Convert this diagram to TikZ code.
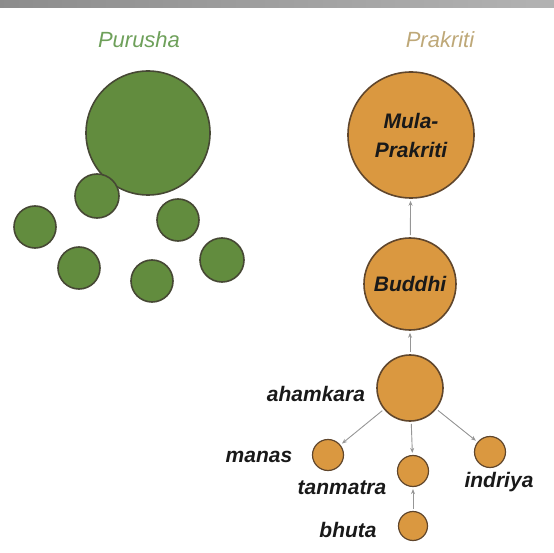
\documentclass[tikz,border=0pt]{standalone}
\usepackage{fontspec}
\setmainfont{Liberation Sans}
\usetikzlibrary{arrows.meta}

\definecolor{purgreen}{RGB}{98,140,62}
\definecolor{purline}{RGB}{70,72,52}
\definecolor{prorange}{RGB}{218,152,64}
\definecolor{proline}{RGB}{96,70,44}
\definecolor{purtext}{RGB}{110,160,90}
\definecolor{prtext}{RGB}{190,168,120}
\definecolor{arrgray}{RGB}{150,150,150}

\begin{document}
\begin{tikzpicture}[x=1pt, y=-1pt,
  puru/.style={circle, draw=purline, fill=purgreen, line width=1.6pt, inner sep=0pt},
  prak/.style={circle, draw=proline, fill=prorange, line width=1.6pt, inner sep=0pt, align=center},
  lbl/.style={font=\fontsize{21}{23}\selectfont\bfseries\itshape, text=black!90},
  head/.style={font=\fontsize{22}{24}\selectfont\itshape},
  arr/.style={draw=arrgray, line width=0.9pt, -{Stealth[length=5pt, width=4pt]}, shorten <=2pt, shorten >=2pt}]
  \useasboundingbox (0,0) rectangle (554,553);
  \shade[left color=black!45, right color=black!30] (0,0) rectangle (554,8);
  % Purusha
  \node[head, text=purtext] (purusha) at (139,40) {Purusha};
  \node[puru, minimum size=124pt] (p0) at (148,133) {};
  \node[puru, minimum size=44pt] (p1) at (97,196) {};
  \node[puru, minimum size=42pt] (p2) at (35,227) {};
  \node[puru, minimum size=42pt] (p3) at (178,220) {};
  \node[puru, minimum size=42pt] (p4) at (79,268) {};
  \node[puru, minimum size=42pt] (p5) at (152,281) {};
  \node[puru, minimum size=44pt] (p6) at (222,260) {};
  % Prakriti
  \node[head, text=prtext] (prakriti) at (440,40) {Prakriti};
  \node[prak, minimum size=126pt, lbl] (mula) at (411,135) {Mula-\\[6pt]Prakriti};
  \node[prak, minimum size=92pt, lbl] (buddhi) at (410,284) {Buddhi};
  \node[prak, minimum size=66pt] (ahamkara) at (410,388) {};
  \node[prak, minimum size=31pt, line width=1.2pt] (manas) at (328,455) {};
  \node[prak, minimum size=31pt, line width=1.2pt] (tanmatra) at (413,471) {};
  \node[prak, minimum size=31pt, line width=1.2pt] (indriya) at (490,452) {};
  \node[prak, minimum size=29pt, line width=1.2pt] (bhuta) at (413,526) {};
  \node[lbl] (ahamkaralbl) at (316,394) {ahamkara};
  \node[lbl] (manaslbl) at (259,457) {manas};
  \node[lbl] (tanmatralbl) at (342,488) {tanmatra};
  \node[lbl] (indriyalbl) at (499,482) {indriya};
  \node[lbl] (bhutalbl) at (348,530) {bhuta};
  \draw[arr] (buddhi) -- (mula);
  \draw[arr] (ahamkara) -- (buddhi);
  \draw[arr] (ahamkara) -- (manas);
  \draw[arr] (ahamkara) -- (tanmatra);
  \draw[arr] (ahamkara) -- (indriya);
  \draw[arr] (bhuta) -- (tanmatra);
\end{tikzpicture}
\end{document}
